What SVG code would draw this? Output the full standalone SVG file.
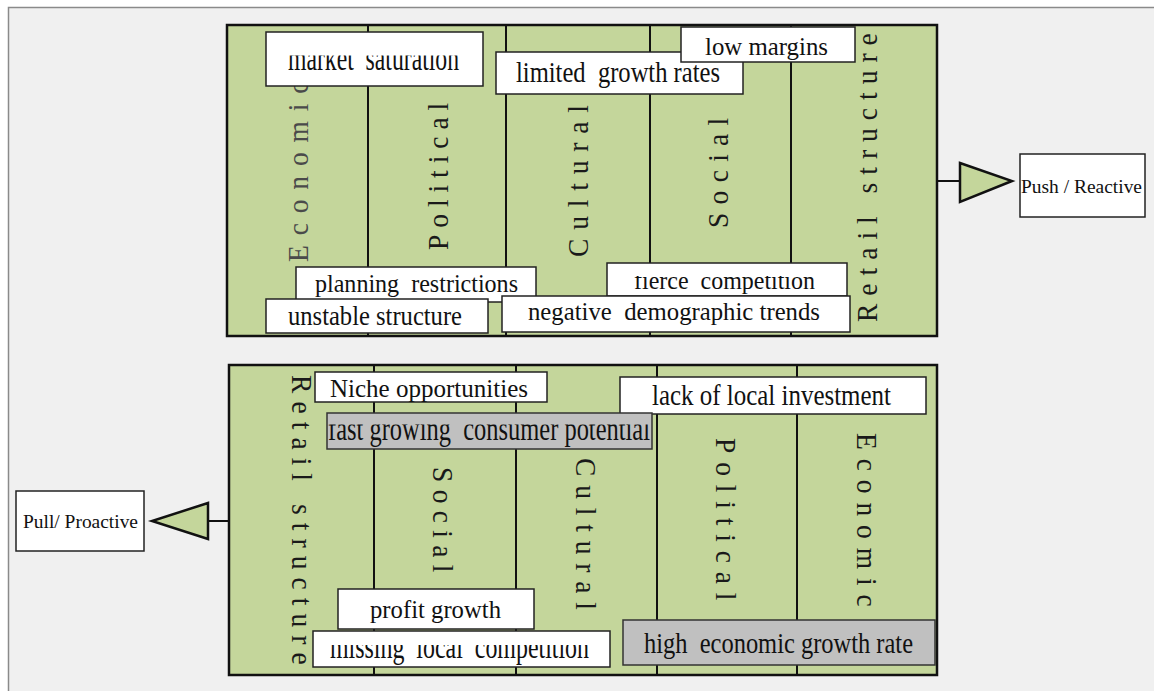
<svg xmlns="http://www.w3.org/2000/svg" width="1154" height="691" viewBox="0 0 1154 691">
  <style>
    .panel { fill: #c4d69b; stroke: #111; stroke-width: 2.5; }
    .divider { stroke: #111; stroke-width: 2; }
    .axis { font-family: "Liberation Serif", "Times New Roman", serif; font-size: 29px; fill: #1a1a1a; }
    .box { fill: #ffffff; stroke: #222; stroke-width: 1.5; }
    .gbox { fill: #c0c0c0; stroke: #333; stroke-width: 1.5; }
    .lbl { font-family: "Liberation Serif", "Times New Roman", serif; font-size: 25px; fill: #111; white-space: pre; }
    .side { font-family: "Liberation Serif", "Times New Roman", serif; font-size: 19px; fill: #111; }
    .link { stroke: #111; stroke-width: 2; fill: none; }
    .tri { fill: #c4d69b; stroke: #111; stroke-width: 2.5; stroke-linejoin: miter; }
  </style>
  <defs>
    <clipPath id="clipMarket"><rect x="260" y="55.5" width="230" height="40"/></clipPath>
    <clipPath id="clipFierce"><rect x="600" y="276" width="250" height="30"/></clipPath>
    <clipPath id="clipFast"><rect x="320" y="424.5" width="340" height="30"/></clipPath>
    <clipPath id="clipMissing"><rect x="305" y="645" width="310" height="30"/></clipPath>
  </defs>

  <!-- page -->
  <rect x="0" y="0" width="1154" height="691" fill="#ffffff"/>
  <rect x="8.5" y="7.5" width="1150" height="690" fill="#f0f0f0" stroke="#8a8a8a" stroke-width="1.5"/>

  <!-- ===== upper panel: push factors ===== -->
  <g id="push-panel">
    <rect class="panel" x="227" y="25" width="710" height="311"/>
    <line class="divider" x1="368" y1="25" x2="368" y2="336"/>
    <line class="divider" x1="506" y1="25" x2="506" y2="336"/>
    <line class="divider" x1="650" y1="25" x2="650" y2="336"/>
    <line class="divider" x1="791" y1="25" x2="791" y2="336"/>
    <text class="axis" style="fill:#4a4a4a" transform="translate(298,262) rotate(-90) scale(0.95,1)" x="0" y="9.5" textLength="190" lengthAdjust="spacing">Economic</text>
    <text class="axis" transform="translate(438,250) rotate(-90) scale(0.95,1)" x="0" y="9.5" textLength="155" lengthAdjust="spacing">Political</text>
    <text class="axis" transform="translate(578,257) rotate(-90) scale(0.95,1)" x="0" y="9.5" textLength="160" lengthAdjust="spacing">Cultural</text>
    <text class="axis" transform="translate(718.5,228) rotate(-90) scale(0.95,1)" x="0" y="9.5" textLength="116" lengthAdjust="spacing">Social</text>
    <text class="axis" transform="translate(867,322) rotate(-90) scale(0.95,1)" x="0" y="9.5" textLength="304" lengthAdjust="spacing">Retail structure</text>
  </g>

  <g id="market-saturation">
    <rect class="box" x="266" y="32" width="217" height="54"/>
    <g clip-path="url(#clipMarket)">
      <text class="lbl" transform="translate(288,70) scale(1,1.4)" x="0" y="0" textLength="171" lengthAdjust="spacingAndGlyphs">market  saturation</text>
    </g>
  </g>
  <g id="limited-growth-rates">
    <rect class="box" x="496" y="52" width="247" height="42"/>
    <text class="lbl" transform="translate(516,82) scale(1,1.15)" x="0" y="0" textLength="204" lengthAdjust="spacingAndGlyphs">limited  growth rates</text>
  </g>
  <g id="low-margins">
    <rect class="box" x="681" y="27" width="174" height="35"/>
    <text class="lbl" x="705" y="55" textLength="123" lengthAdjust="spacingAndGlyphs">low margins</text>
  </g>
  <g id="fierce-competition">
    <rect class="box" x="607" y="263" width="240" height="33"/>
    <g clip-path="url(#clipFierce)">
      <text class="lbl" x="634" y="289" textLength="181" lengthAdjust="spacingAndGlyphs">fierce  competition</text>
    </g>
  </g>
  <g id="planning-restrictions">
    <rect class="box" x="296" y="267" width="240" height="35"/>
    <text class="lbl" x="315" y="292" textLength="203" lengthAdjust="spacingAndGlyphs">planning  restrictions</text>
  </g>
  <g id="unstable-structure">
    <rect class="box" x="266" y="299" width="222" height="34"/>
    <text class="lbl" transform="translate(288,325) scale(1,1.05)" x="0" y="0" textLength="174" lengthAdjust="spacingAndGlyphs">unstable structure</text>
  </g>
  <g id="negative-demographic-trends">
    <rect class="box" x="502" y="296" width="348" height="36"/>
    <text class="lbl" x="528" y="320" textLength="292" lengthAdjust="spacingAndGlyphs">negative  demographic trends</text>
  </g>

  <!-- ===== lower panel: pull factors ===== -->
  <g id="pull-panel">
    <rect class="panel" x="229" y="365" width="708" height="310"/>
    <line class="divider" x1="374" y1="365" x2="374" y2="675"/>
    <line class="divider" x1="516" y1="365" x2="516" y2="675"/>
    <line class="divider" x1="657" y1="365" x2="657" y2="675"/>
    <line class="divider" x1="797" y1="365" x2="797" y2="675"/>
    <text class="axis" transform="translate(302,375) rotate(90) scale(0.95,1)" x="0" y="9.5" textLength="305" lengthAdjust="spacing">Retail structure</text>
    <text class="axis" transform="translate(443,467) rotate(90) scale(0.95,1)" x="0" y="9.5" textLength="111" lengthAdjust="spacing">Social</text>
    <text class="axis" transform="translate(586,458) rotate(90) scale(0.95,1)" x="0" y="9.5" textLength="160" lengthAdjust="spacing">Cultural</text>
    <text class="axis" transform="translate(726,438) rotate(90) scale(0.95,1)" x="0" y="9.5" textLength="171" lengthAdjust="spacing">Political</text>
    <text class="axis" transform="translate(867,433) rotate(90) scale(0.95,1)" x="0" y="9.5" textLength="183" lengthAdjust="spacing">Economic</text>
  </g>

  <g id="lack-of-local-investment">
    <rect class="box" x="620" y="377" width="306" height="37"/>
    <text class="lbl" transform="translate(652,405) scale(1,1.15)" x="0" y="0" textLength="239" lengthAdjust="spacingAndGlyphs">lack of local investment</text>
  </g>
  <g id="fast-growing-consumer-potential">
    <rect class="gbox" x="327" y="413" width="325" height="36"/>
    <g clip-path="url(#clipFast)">
      <text class="lbl" transform="translate(328,440) scale(1,1.35)" x="0" y="0" textLength="322" lengthAdjust="spacingAndGlyphs">fast growing  consumer potential</text>
    </g>
  </g>
  <g id="niche-opportunities">
    <rect class="box" x="315" y="372" width="232" height="30"/>
    <text class="lbl" x="330" y="397" textLength="198" lengthAdjust="spacingAndGlyphs">Niche opportunities</text>
  </g>
  <g id="profit-growth">
    <rect class="box" x="338" y="589" width="196" height="40"/>
    <text class="lbl" x="370" y="618" textLength="131" lengthAdjust="spacingAndGlyphs">profit growth</text>
  </g>
  <g id="missing-local-competition">
    <rect class="box" x="313" y="631" width="297" height="36"/>
    <g clip-path="url(#clipMissing)">
      <text class="lbl" transform="translate(330,658) scale(1,1.35)" x="0" y="0" textLength="259" lengthAdjust="spacingAndGlyphs">missing  local  competition</text>
    </g>
  </g>
  <g id="high-economic-growth-rate">
    <rect class="gbox" x="623" y="620" width="312" height="45"/>
    <text class="lbl" transform="translate(644,653) scale(1,1.15)" x="0" y="0" textLength="269" lengthAdjust="spacingAndGlyphs">high  economic growth rate</text>
  </g>

  <!-- ===== outcome boxes ===== -->
  <g id="push-reactive">
    <rect class="box" x="1020" y="154" width="125" height="63" stroke-width="1.2"/>
    <text class="side" x="1021" y="193" textLength="121" lengthAdjust="spacingAndGlyphs">Push / Reactive</text>
  </g>
  <g id="pull-proactive">
    <rect class="box" x="16" y="491" width="128" height="60" stroke-width="1.2"/>
    <text class="side" x="23" y="528" textLength="115" lengthAdjust="spacingAndGlyphs">Pull/ Proactive</text>
  </g>

  <!-- connectors -->
  <g id="connectors">
    <line class="link" x1="937" y1="181" x2="960" y2="181"/>
    <polygon class="tri" points="960,163 1012,181 960,202"/>
    <line class="link" x1="208" y1="521" x2="229" y2="521"/>
    <polygon class="tri" points="208,503 152,521 208,539"/>
  </g>
</svg>
